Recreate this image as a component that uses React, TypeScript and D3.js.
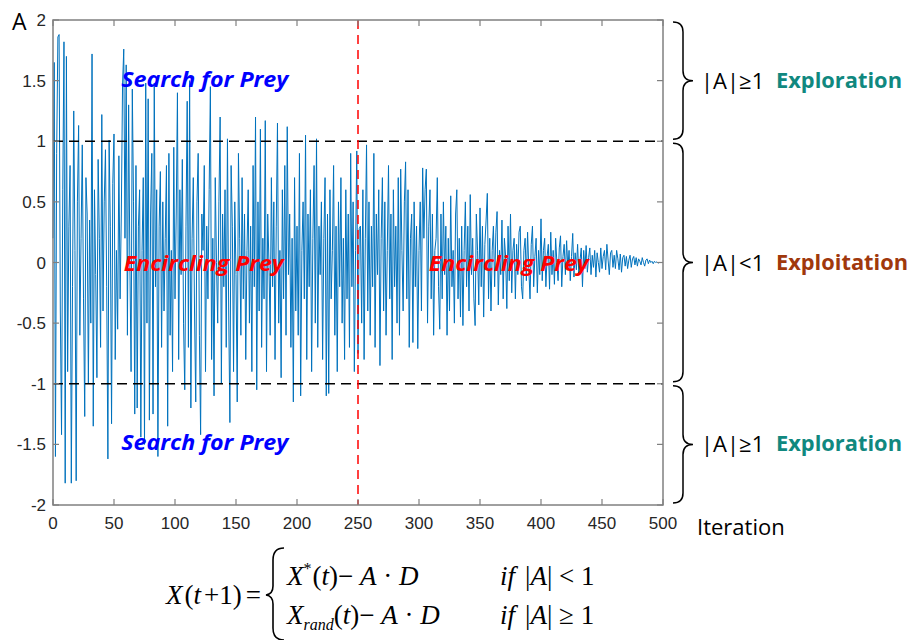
import React from 'react';
import * as d3 from 'd3';

// value of A at each iteration (0..499)
const aValues: number[] = [
  0.2, 1.65, -1.6, 0.9, 1.86, 1.88, -0.4, -1.42, 0.6, 1.82, -1.82, 1.7, -0.9, 0.3, 0.8, -1.82, -0.2, 1.25, 0.1, -1.8,
  0.5, 1.13, -0.6, 0.2, 0.97, -0.3, -1.27, 0.7, 0.4, -1.0, 0.35, -0.5, 1.72, -1.35, 0.6, -0.1, -0.95, 0.85, 0.2, -0.7,
  1.22, -0.4, 0.5, 0.93, -0.2, -1.62, 1.01, 0.3, -1.33, 0.65, 1.06, -0.8, 0.1, -0.55, 0.88, -0.3, 0.4, 1.46, 1.76, 0.2,
  1.63, -0.6, 1.3, 0.0, -0.9, 1.43, 0.5, -1.25, 0.8, -1.2, 0.3, 0.6, -1.44, 0.1, 0.7, -1.5, 1.48, -0.5, 1.35, -1.3,
  0.4, 0.9, -1.25, 1.48, -0.2, 0.6, -1.6, 0.3, 0.75, -0.7, 0.5, -0.4, 0.2, 0.8, -1.35, 0.9, -0.6, 0.1, -0.9, 0.95,
  -0.3, 0.4, 1.4, -0.8, 0.6, -0.1, 0.85, -0.5, -1.05, 0.3, 1.33, -0.7, 1.5, -1.2, 0.2, 0.7, -0.4, -1.15, 0.5, 0.9,
  -0.6, -1.42, 0.4, 0.1, 0.8, -0.9, 0.3, -0.3, 0.6, 1.45, -0.8, 0.2, -1.1, 0.7, 0.0, -0.5, 0.5, 1.2, -1.0, 0.4,
  -0.2, 0.6, -0.7, 1.02, -0.4, -1.32, 0.8, 0.3, -0.9, 0.5, -0.1, -1.15, 0.9, 0.2, -0.6, 0.7, -0.3, 0.4, -0.8, 0.1,
  0.6, -0.5, 0.3, -0.9, 0.8, -0.2, 1.2, -1.05, 0.5, -0.4, 1.1, -0.7, 0.2, -0.3, 1.17, -0.9, 0.4, 0.0, -0.6, 0.7,
  -0.2, 0.5, -0.8, 0.3, 1.15, -0.5, 0.1, -0.95, 0.6, -0.3, 0.8, -0.6, 1.12, -0.1, 0.4, -0.7, 0.2, -1.15, 0.7, -0.4,
  0.3, -0.6, 0.9, -1.1, 0.1, 0.5, -0.3, 1.05, -0.8, 0.4, -0.2, 0.6, -0.9, 0.2, 0.8, -0.5, 1.02, -0.7, 0.3, -0.1,
  0.5, -0.8, 0.2, 0.7, -1.1, 0.4, -1.08, 0.6, -0.3, 0.1, 0.8, -0.6, 0.3, -0.9, 0.5, -0.2, 0.7, -0.5, 0.2, -0.8,
  0.6, -0.3, 0.4, -0.7, 0.9, -0.2, 0.5, -0.9, 0.1, 0.92, -0.75, 0.28, 0.3, -0.5, 0.6, -0.8, 0.2, 0.97, -0.4, 0.5,
  -0.6, 0.3, -0.2, 0.9, -0.7, 0.4, -0.1, 0.6, -0.85, 0.2, 0.7, -0.4, 0.5, -0.6, 0.1, 0.8, -0.3, 0.4, -0.8, 0.6,
  -0.2, 0.3, -0.5, 0.7, -0.6, 0.77, 0.1, -0.4, 0.5, 0.83, -0.3, 0.6, -0.7, 0.2, 0.4, -0.66, 0.5, -0.2, 0.3, -0.71,
  0.1, 0.5, -0.4, 0.78, 0.2, 0.6, 0.77, -0.5, 0.3, 0.6, -0.3, 0.4, -0.6, 0.1, 0.2, 0.7, -0.2, -0.55, 0.4, -0.3,
  0.5, -0.1, 0.3, -0.6, 0.2, -0.4, 0.55, -0.2, 0.1, -0.5, 0.4, 0.6, -0.3, 0.2, -0.45, 0.3, -0.52, 0.1, 0.5, -0.2,
  0.3, -0.4, 0.56, -0.1, 0.2, -0.3, -0.52, 0.4, 0.1, -0.35, 0.45, -0.2, 0.3, -0.45, 0.15, 0.35, 0.57, -0.3, 0.2, -0.4,
  0.1, 0.3, -0.2, 0.25, 0.42, -0.35, 0.1, -0.1, 0.35, -0.3, 0.2, 0.05, -0.38, 0.3, -0.15, 0.4, -0.25, 0.1, 0.2, -0.3,
  0.15, -0.1, 0.25, 0.3, -0.2, -0.3, 0.1, 0.2, -0.15, 0.25, -0.05, -0.3, 0.15, 0.3, -0.2, 0.05, 0.2, -0.25, 0.1, -0.1,
  0.36, -0.15, 0.1, 0.2, -0.2, 0.05, 0.15, -0.22, 0.25, -0.1, 0.1, -0.18, 0.2, 0.0, -0.15, 0.12, 0.22, -0.2, 0.05, 0.15,
  -0.1, 0.18, -0.05, 0.1, -0.15, 0.05, 0.24, -0.12, 0.08, -0.06, 0.15, -0.1, 0.02, 0.12, -0.2, 0.1, -0.05, 0.14, -0.08, 0.04,
  0.12, -0.1, 0.06, -0.04, 0.1, -0.12, 0.08, 0.0, -0.08, 0.12, -0.05, 0.05, 0.1, -0.06, 0.15, 0.02, -0.1, 0.08, 0.1, -0.04,
  0.06, -0.05, 0.1, 0.03, -0.06, 0.07, -0.08, 0.04, 0.06, -0.03, 0.05, -0.05, 0.02, 0.06, -0.04, 0.03, 0.05, -0.02, 0.04, -0.03,
  0.03, 0.01, -0.02, 0.04, 0.0, -0.03, 0.02, 0.03, -0.01, 0.02, 0.0, 0.01, -0.01, 0.01, 0.0, 0.005, -0.005, 0.0, 0.0, 0.0,
];

const xTicks = [0, 50, 100, 150, 200, 250, 300, 350, 400, 450, 500];
const yTicks = [-2, -1.5, -1, -0.5, 0, 0.5, 1, 1.5, 2];
const thresholds = [1, -1];
const switchIter = 250;

// brace regions on the right: [from, to, condition, phase]
const regions = [
  { from: 2, to: 1, cond: '|A|≥1', phase: 'Exploration', color: '#10887f' },
  { from: 1, to: -1, cond: '|A|<1', phase: 'Exploitation', color: '#a0380c' },
  { from: -1, to: -2, cond: '|A|≥1', phase: 'Exploration', color: '#10887f' },
];

const phaseLabels = [
  { text: 'Search for Prey', iter: 56, val: 1.45, color: '#0000ff' },
  { text: 'Search for Prey', iter: 56, val: -1.55, color: '#0000ff' },
  { text: 'Encircling Prey', iter: 58, val: -0.07, color: '#ff0000' },
  { text: 'Encircling Prey', iter: 308, val: -0.07, color: '#ff0000' },
];

const W = 912;
const H = 640;
const left = 53, right = 663, top = 20, bottom = 505;

const braceFont = '"Open Sans", "Noto Sans", sans-serif';
const tickFont = '"Liberation Sans", Arial, sans-serif';
const mathFont = '"Liberation Serif", "Times New Roman", serif';

function bracePath(x0: number, y0: number, y1: number) {
  const xs = x0 + 10, xt = x0 + 20, r = 10;
  const ym = (y0 + y1) / 2;
  return `M${x0},${y0} Q${xs},${y0} ${xs},${y0 + r} L${xs},${ym - r} Q${xs},${ym} ${xt},${ym}` +
    ` Q${xs},${ym} ${xs},${ym + r} L${xs},${y1 - r} Q${xs},${y1} ${x0},${y1}`;
}

export default function App() {
  const x = d3.scaleLinear().domain([0, 500]).range([left, right]);
  const y = d3.scaleLinear().domain([-2, 2]).range([bottom, top]);

  const line = d3.line<number>()
    .x((d, i) => x(i))
    .y(d => y(d));

  const axisColor = '#808080';
  const tickLen = 6;

  return (
    <svg width={W} height={H} style={{ display: 'block', position: 'absolute', left: 0, top: 0 }}>
      <rect width={W} height={H} fill="#fff" />

      <path d={line(aValues) || ''} fill="none" stroke="#0072bd" strokeWidth={1} />

      {thresholds.map(t => (
        <line key={t} x1={left} x2={right} y1={y(t)} y2={y(t)}
          stroke="#000" strokeWidth={1.5} strokeDasharray="10,6" />
      ))}
      <line x1={x(switchIter)} x2={x(switchIter)} y1={top} y2={bottom}
        stroke="#ff0000" strokeWidth={1.5} strokeDasharray="9,6" />

      {phaseLabels.map((p, i) => (
        <text key={i} x={x(p.iter)} y={y(p.val)} fill={p.color}
          fontFamily={braceFont} fontWeight="bold" fontStyle="italic" fontSize={21}
          textLength={p.text.startsWith('S') ? 167 : 160} lengthAdjust="spacingAndGlyphs">
          {p.text}
        </text>
      ))}

      {/* box and ticks */}
      <rect x={left} y={top} width={right - left} height={bottom - top}
        fill="none" stroke={axisColor} strokeWidth={1.5} />
      {xTicks.map(t => (
        <g key={'x' + t}>
          <line x1={x(t)} x2={x(t)} y1={bottom} y2={bottom - tickLen} stroke={axisColor} strokeWidth={1.2} />
          <line x1={x(t)} x2={x(t)} y1={top} y2={top + tickLen} stroke={axisColor} strokeWidth={1.2} />
          <text x={x(t)} y={bottom + 24} textAnchor="middle" fontFamily={tickFont} fontSize={17} fill="#262626">{t}</text>
        </g>
      ))}
      {yTicks.map(t => (
        <g key={'y' + t}>
          <line x1={left} x2={left + tickLen} y1={y(t)} y2={y(t)} stroke={axisColor} strokeWidth={1.2} />
          <line x1={right} x2={right - tickLen} y1={y(t)} y2={y(t)} stroke={axisColor} strokeWidth={1.2} />
          <text x={left - 7} y={y(t) + 6} textAnchor="end" fontFamily={tickFont} fontSize={17} fill="#262626">{t}</text>
        </g>
      ))}

      <text x={12} y={30} fontFamily={braceFont} fontSize={23} fill="#000">A</text>
      <text x={697} y={535} fontFamily={braceFont} fontSize={22} fill="#000">Iteration</text>

      {regions.map((r, i) => {
        const y0 = y(r.from) + 2, y1 = y(r.to) - 2;
        const ym = (y0 + y1) / 2;
        return (
          <g key={i}>
            <path d={bracePath(673, y0, y1)} fill="none" stroke="#000" strokeWidth={1.5} />
            <text x={701} y={ym + 8} fontFamily={braceFont} fontSize={22} fill="#000">{r.cond}</text>
            <text x={776} y={ym + 7} fontFamily={braceFont} fontSize={21} fontWeight="bold" fill={r.color}
              textLength={r.phase === 'Exploration' ? 126 : 132} lengthAdjust="spacingAndGlyphs">{r.phase}</text>
          </g>
        );
      })}

      {/* update rule */}
      <g fontFamily={mathFont} fontSize={27} fill="#000">
        <text x={166} y={604}>
          <tspan fontStyle="italic">X</tspan>
          <tspan dx={2}>(</tspan>
          <tspan fontStyle="italic">t</tspan>
          <tspan dx={3}>+1)</tspan>
          <tspan dx={4}>=</tspan>
        </text>
        <path d="M284,548 Q273,548 273,560 L273,586 Q273,594 266,595 Q273,596 273,604 L273,628 Q273,640 284,640"
          fill="none" stroke="#000" strokeWidth={1.6} />
        <text x={287} y={585}>
          <tspan fontStyle="italic">X</tspan>
          <tspan fontSize={16} dy={-11}>*</tspan>
          <tspan dy={11} dx={1}>(</tspan>
          <tspan fontStyle="italic">t</tspan>
          <tspan>)− </tspan>
          <tspan fontStyle="italic">A</tspan>
          <tspan> · </tspan>
          <tspan fontStyle="italic">D</tspan>
        </text>
        <text x={287} y={624}>
          <tspan fontStyle="italic">X</tspan>
          <tspan fontStyle="italic" fontSize={16} dy={6}>rand</tspan>
          <tspan dy={-6}>(</tspan>
          <tspan fontStyle="italic">t</tspan>
          <tspan>)− </tspan>
          <tspan fontStyle="italic">A</tspan>
          <tspan> · </tspan>
          <tspan fontStyle="italic">D</tspan>
        </text>
        <text x={500} y={585}>
          <tspan fontStyle="italic">if</tspan>
          <tspan dx={10}>|</tspan>
          <tspan fontStyle="italic">A</tspan>
          <tspan>| &lt; 1</tspan>
        </text>
        <text x={500} y={624}>
          <tspan fontStyle="italic">if</tspan>
          <tspan dx={10}>|</tspan>
          <tspan fontStyle="italic">A</tspan>
          <tspan>| ≥ 1</tspan>
        </text>
      </g>
    </svg>
  );
}
